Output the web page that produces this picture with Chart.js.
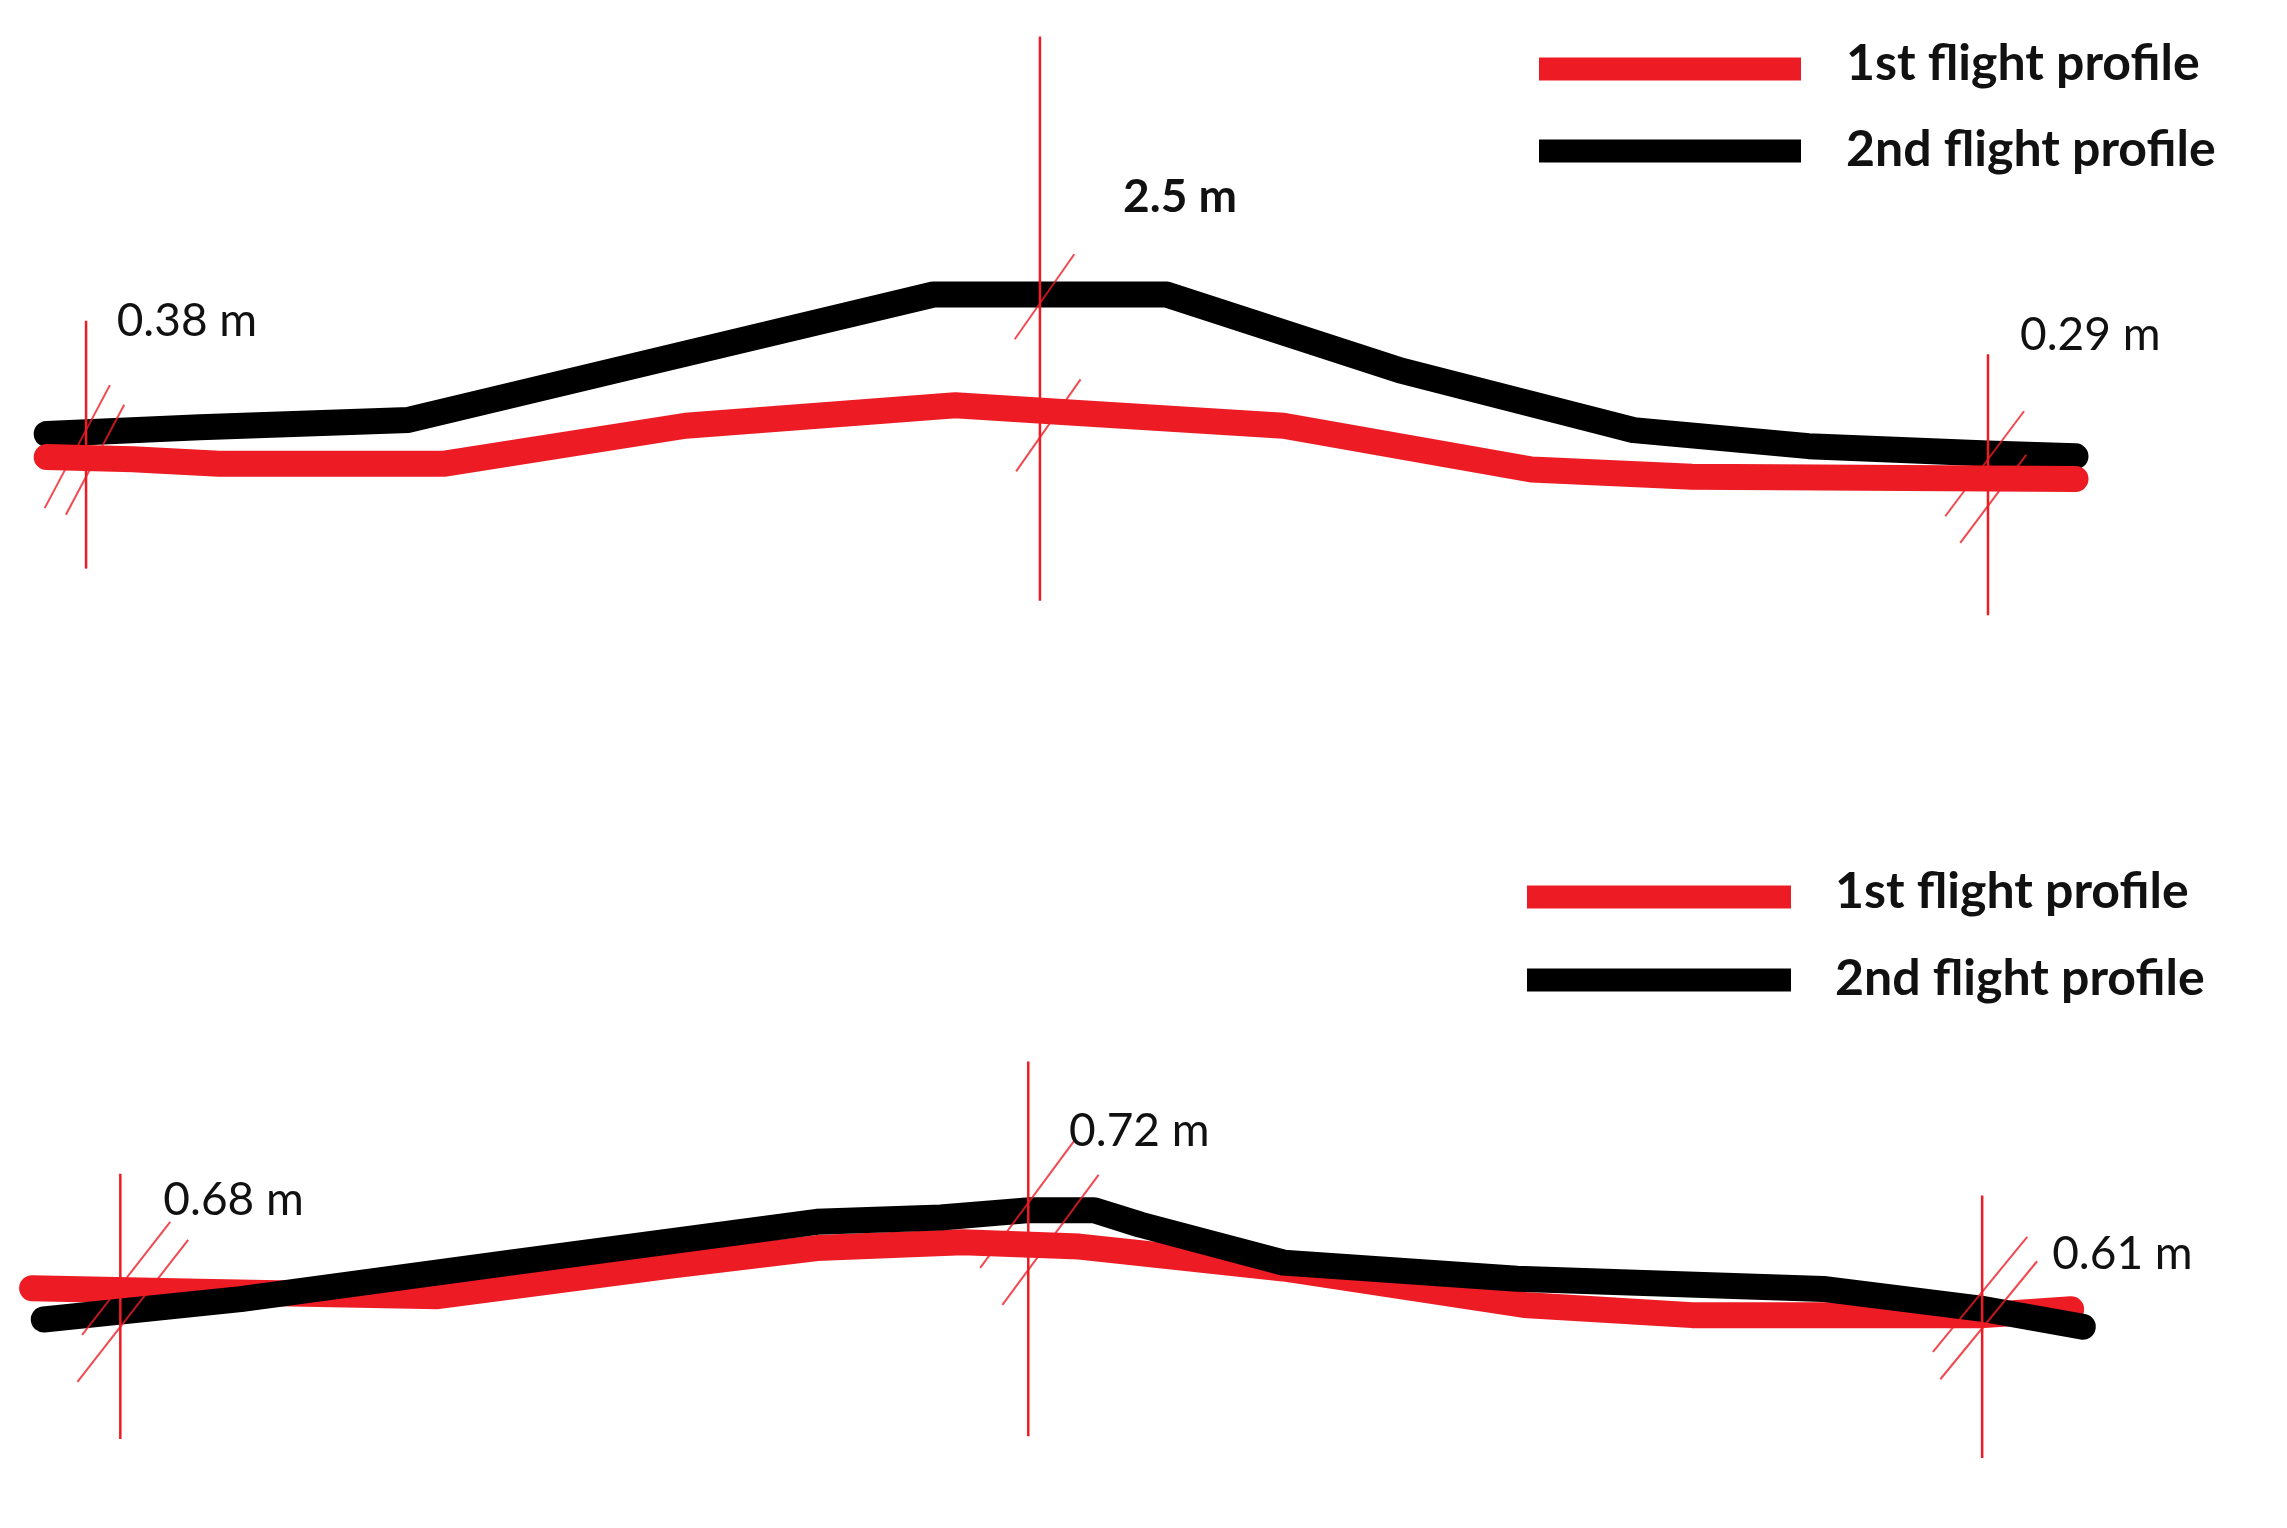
<!DOCTYPE html>
<html>
<head>
<meta charset="utf-8">
<script src="https://cdn.jsdelivr.net/npm/chart.js@4.4.1/dist/chart.umd.min.js"></script>
<style>
  html, body { margin: 0; padding: 0; background: #fff; }
  #wrap { position: relative; width: 2287px; height: 1528px; background: #fff; }
  canvas { position: absolute; left: 0; }
  #topChart { top: 0; }
  #bottomChart { top: 764px; }
</style>
</head>
<body>
<div id="wrap">
  <canvas id="topChart" width="2287" height="764"></canvas>
  <canvas id="bottomChart" width="2287" height="764"></canvas>
</div>
<script>
/* globals Chart:false */
const seriesNames = ['1st flight profile', '2nd flight profile'];
const seriesColors = ['#ED1C24', '#000000'];

// upper sketch: along-track distance / relative height (arbitrary units)
const topDist1 = [3.2, 9.1, 15.0, 30.5, 47.0, 65.5, 72.0, 88.0, 105.0, 116.0, 142.3];
const topAlt1 = [21.05, 20.9, 20.6, 20.6, 23.2, 24.6, 24.2, 23.2, 20.2, 19.7, 19.55];
const topDist2 = [3.2, 13.7, 28.0, 46.0, 64.0, 80.0, 96.0, 112.0, 124.0, 136.3, 142.3];
const topAlt2 = [22.64, 23.1, 23.6, 27.9, 32.2, 32.2, 27.0, 22.9, 21.8, 21.3, 21.1];
const topGapLabels = ['0.38 m', '2.5 m', '0.29 m'];
const topGapAt = [5.9, 71.3, 136.3];

// lower sketch
const bottomDist1 = [2.2, 13.7, 30.0, 46.0, 56.0, 66.0, 74.0, 88.0, 104.5, 116.0, 136.0, 142.0];
const bottomAlt1 = [16.45, 16.2, 15.9, 18.0, 19.2, 19.6, 19.3, 17.8, 15.3, 14.6, 14.6, 15.0];
const bottomDist2 = [3.0, 16.5, 35.0, 56.0, 64.5, 70.6, 75.0, 78.2, 88.0, 104.0, 125.0, 135.8, 142.8];
const bottomAlt2 = [14.3, 15.7, 18.2, 21.0, 21.3, 21.8, 21.8, 20.8, 18.2, 17.1, 16.4, 15.05, 13.8];
const bottomGapLabels = ['0.68 m', '0.72 m', '0.61 m'];
const bottomGapAt = [8.25, 70.5, 135.9];

const RED = '#ED1C24';

// marker lines, the // ticks and where each gap label sits
const topNotes = {
  markers: [
    { top: 30.4, bottom: 13.4, slant: 0.53, ticks: [[22.9, 45, 78], [19.7, 72, 38]], lx: 8.0, ly: 30.4 },
    { top: 49.9, bottom: 11.2, slant: 0.7, ticks: [[31.6, 49, 36], [22.4, 58, 34]], lx: 77.0, ly: 38.9, bold: true },
    { top: 28.1, bottom: 10.2, slant: 0.75, ticks: [[20.9, 48, 57], [17.7, 51, 37]], lx: 138.5, ly: 29.4 }
  ],
  legend: { x: 1539, w: 262, rows: [69, 151], textDy: [-5, -1], textX: 1846 }
};
const bottomNotes = {
  markers: [
    { top: 24.3, bottom: 6.1, slant: 0.78, ticks: [[16.6, 64, 49], [13.8, 87, 55]], lx: 11.2, ly: 22.5 },
    { top: 32.0, bottom: 6.3, slant: 0.74, ticks: [[22.3, 63, 65], [17.7, 95, 35]], lx: 73.3, ly: 27.2 },
    { top: 22.8, bottom: 4.8, slant: 0.82, ticks: [[16.2, 55, 60], [13.7, 67, 51]], lx: 140.7, ly: 18.8 }
  ],
  legend: { x: 1527, w: 264, rows: [133, 216], textDy: [-5, -1], textX: 1835 }
};

function points(xs, ys) {
  return xs.map((v, i) => ({ x: v, y: ys[i] }));
}

function notesPlugin(labels, at, notes) {
  return {
    id: 'profileNotes',
    afterDatasetsDraw(chart) {
      const { ctx } = chart;
      const x = chart.scales.x, y = chart.scales.y;
      ctx.save();
      at.forEach((d, i) => {
        const m = notes.markers[i];
        const px = x.getPixelForValue(d);
        ctx.strokeStyle = RED;
        ctx.lineWidth = 2.5;
        ctx.beginPath();
        ctx.moveTo(px, y.getPixelForValue(m.top));
        ctx.lineTo(px, y.getPixelForValue(m.bottom));
        ctx.stroke();

        ctx.lineWidth = 2;
        ctx.strokeStyle = 'rgba(237,28,36,0.8)';
        m.ticks.forEach(([v, up, down]) => {
          const py = y.getPixelForValue(v);
          ctx.beginPath();
          ctx.moveTo(px - down * m.slant, py + down);
          ctx.lineTo(px + up * m.slant, py - up);
          ctx.stroke();
        });

        ctx.fillStyle = '#111';
        ctx.font = (m.bold ? 'bold ' : '') + '46px Lato';
        ctx.textBaseline = 'middle';
        ctx.textAlign = 'left';
        ctx.fillText(labels[i], x.getPixelForValue(m.lx), y.getPixelForValue(m.ly));
      });
      ctx.restore();
    },
    afterDraw(chart) {
      const { ctx } = chart;
      const lg = notes.legend;
      ctx.save();
      chart.data.datasets.forEach((ds, i) => {
        const row = lg.rows[i];
        ctx.strokeStyle = ds.borderColor;
        ctx.lineWidth = 23;
        ctx.lineCap = 'butt';
        ctx.beginPath();
        ctx.moveTo(lg.x, row);
        ctx.lineTo(lg.x + lg.w, row);
        ctx.stroke();
        ctx.fillStyle = '#111';
        ctx.font = 'bold 50px Lato';
        ctx.textBaseline = 'middle';
        ctx.textAlign = 'left';
        ctx.fillText(ds.label, lg.textX, row + lg.textDy[i]);
      });
      ctx.restore();
    }
  };
}

function profileChart(id, d1, a1, d2, a2, labels, at, notes, blackOnTop) {
  return new Chart(document.getElementById(id), {
    type: 'line',
    data: {
      datasets: [{
        label: seriesNames[0],
        data: points(d1, a1),
        borderColor: seriesColors[0],
        order: blackOnTop ? 1 : 0
      }, {
        label: seriesNames[1],
        data: points(d2, a2),
        borderColor: seriesColors[1],
        order: blackOnTop ? 0 : 1
      }]
    },
    options: {
      responsive: false,
      animation: false,
      devicePixelRatio: 1,
      layout: { padding: 0 },
      elements: {
        line: { borderWidth: 26, borderCapStyle: 'round', borderJoinStyle: 'round', tension: 0, fill: false },
        point: { radius: 0, hoverRadius: 0 }
      },
      scales: {
        x: { type: 'linear', min: 0, max: 156.8, display: false },
        y: { type: 'linear', min: 0, max: 52.4, display: false }
      },
      plugins: {
        legend: { display: false },
        tooltip: { enabled: false }
      }
    },
    plugins: [notesPlugin(labels, at, notes)]
  });
}

profileChart('topChart', topDist1, topAlt1, topDist2, topAlt2, topGapLabels, topGapAt, topNotes, false);
profileChart('bottomChart', bottomDist1, bottomAlt1, bottomDist2, bottomAlt2, bottomGapLabels, bottomGapAt, bottomNotes, true);
</script>
</body>
</html>
